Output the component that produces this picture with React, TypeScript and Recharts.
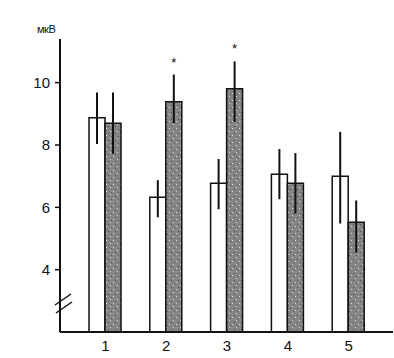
import React from "react";
import { BarChart, Bar, XAxis, YAxis, ErrorBar, LabelList } from "recharts";

const categories = ["1", "2", "3", "4", "5"];
const whiteValues = [8.87, 6.32, 6.77, 7.06, 7.0];
const whiteErrors = [[0.84, 0.81], [0.64, 0.55], [0.83, 0.78], [0.8, 0.81], [1.52, 1.42]];
const greyValues = [8.7, 9.39, 9.8, 6.77, 5.52];
const greyErrors = [[0.98, 0.98], [0.69, 0.87], [1.06, 0.88], [0.97, 0.97], [0.97, 0.7]];
const stars = ["", "*", "*", "", ""];
const yTicks = [4, 6, 8, 10];

const data = categories.map((name, i) => ({
  name,
  white: whiteValues[i],
  whiteErr: whiteErrors[i],
  grey: greyValues[i],
  greyErr: greyErrors[i],
  star: stars[i],
}));

const font = "'Liberation Sans', Arial, sans-serif";

// asterisk sits a bit above the top of the grey bar's error whisker
const StarLabel = (props: any) => {
  const { x, y, width, height, index } = props;
  const s = stars[index];
  if (!s) return null;
  const v = greyValues[index];
  const pxPerUnit = height / (v - 2);
  const errTop = y - greyErrors[index][1] * pxPerUnit;
  return (
    <text x={x + width / 2} y={errTop - 8} textAnchor="middle" fontSize={13} fontFamily={font} fill="#111">
      {s}
    </text>
  );
};

export default function App() {
  return (
    <div style={{ position: "absolute", left: 0, top: 0, width: 394, height: 358, background: "#fff" }}>
      <BarChart
        width={394}
        height={358}
        data={data}
        margin={{ top: 39, right: 1, bottom: 0, left: 0 }}
        barGap={0}
        barSize={16}
      >
        <defs>
          <pattern id="stip" width="7" height="7" patternUnits="userSpaceOnUse">
            <rect width="7" height="7" fill="#858585" />
            <rect x="1" y="2" width="1" height="1" fill="#dcdcdc" />
            <rect x="5" y="5" width="1" height="1" fill="#d0d0d0" />
            <rect x="3" y="0" width="1" height="1" fill="#505050" />
            <rect x="6" y="3" width="1" height="1" fill="#5a5a5a" />
          </pattern>
        </defs>
        <XAxis
          dataKey="name"
          height={26}
          padding={{ left: 15, right: 14 }}
          tickSize={0}
          tickMargin={8}
          axisLine={{ stroke: "#111", strokeWidth: 2 }}
          tick={{ fill: "#111", fontSize: 15, fontFamily: font }}
        />
        <YAxis
          width={60}
          domain={[2, 11.4]}
          ticks={yTicks}
          allowDataOverflow
          tickSize={5}
          tickMargin={5}
          axisLine={{ stroke: "#111", strokeWidth: 2 }}
          tickLine={{ stroke: "#111", strokeWidth: 1.5 }}
          tick={{ fill: "#111", fontSize: 15, fontFamily: font }}
        />
        <Bar dataKey="white" fill="#fff" stroke="#111" strokeWidth={1.5} isAnimationActive={false}>
          <ErrorBar dataKey="whiteErr" width={0} stroke="#111" strokeWidth={2} />
        </Bar>
        <Bar dataKey="grey" fill="url(#stip)" stroke="#111" strokeWidth={1.5} isAnimationActive={false}>
          <ErrorBar dataKey="greyErr" width={0} stroke="#111" strokeWidth={2} />
          <LabelList dataKey="star" content={StarLabel} />
        </Bar>
      </BarChart>
      <div
        style={{
          position: "absolute",
          left: 37,
          top: 23,
          fontSize: 11,
          fontFamily: font,
          color: "#111",
          letterSpacing: -0.5,
        }}
      >
        мкВ
      </div>
      <svg width={394} height={358} style={{ position: "absolute", left: 0, top: 0, pointerEvents: "none" }}>
        <line x1={55} y1={305} x2={71} y2={294} stroke="#111" strokeWidth={1.5} />
        <line x1={56} y1={313} x2={72} y2={302} stroke="#111" strokeWidth={1.5} />
      </svg>
    </div>
  );
}
